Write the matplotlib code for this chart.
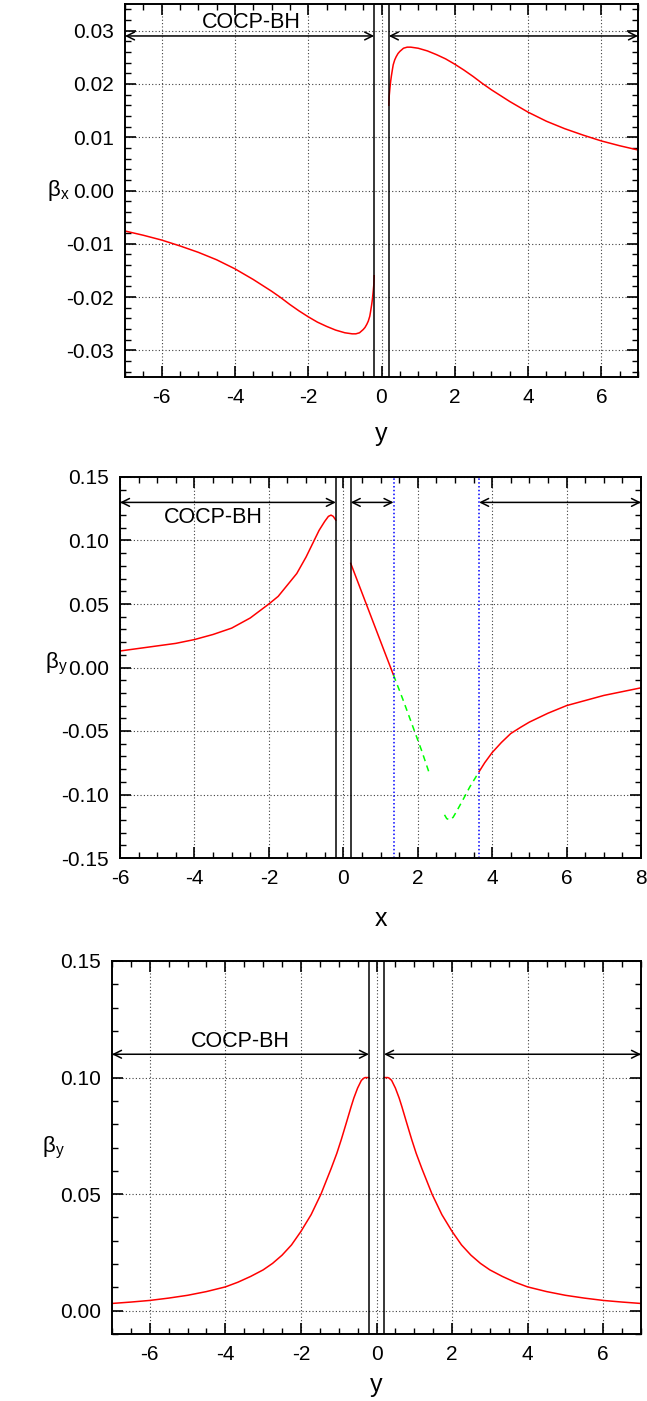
import matplotlib
matplotlib.use("Agg")
import matplotlib.pyplot as plt
from matplotlib.ticker import MultipleLocator, FormatStrFormatter

plt.rcParams['font.family'] = ['Liberation Sans', 'DejaVu Sans']
plt.rcParams['axes.unicode_minus'] = False
plt.rcParams['mathtext.default'] = 'regular'

# panel 1: beta_x along y
p1_right_y = [0.2, 0.21, 0.23, 0.25, 0.27, 0.3, 0.32, 0.36, 0.4, 0.45, 0.5, 0.6, 0.7, 0.8,
              1.0, 1.25, 1.5, 1.75, 2.0, 2.25, 2.5, 2.75, 3.0, 3.5, 4.0, 4.5, 5.0, 5.5,
              6.0, 6.5, 7.0]
p1_right_b = [0.0160, 0.0177, 0.0192, 0.0205, 0.0215, 0.0228, 0.0236, 0.0245, 0.0251, 0.0257,
              0.0261, 0.0267, 0.0269, 0.0269, 0.0267, 0.0262, 0.0255, 0.0247, 0.0237, 0.0226,
              0.0214, 0.0201, 0.0189, 0.0167, 0.0147, 0.0130, 0.0116, 0.0104, 0.0093, 0.0084,
              0.0076]
p1_left_y = [-7.0, -6.5, -6.0, -5.5, -5.0, -4.5, -4.0, -3.5, -3.0, -2.75, -2.5, -2.25, -2.0,
             -1.75, -1.5, -1.25, -1.0, -0.8, -0.7, -0.6, -0.5, -0.45, -0.4, -0.36, -0.32,
             -0.3, -0.27, -0.25, -0.23, -0.21, -0.2]
p1_left_b = [-0.0076, -0.0084, -0.0093, -0.0104, -0.0116, -0.0130, -0.0147, -0.0167, -0.0189,
             -0.0201, -0.0214, -0.0226, -0.0237, -0.0247, -0.0255, -0.0262, -0.0267, -0.0269,
             -0.0269, -0.0267, -0.0261, -0.0257, -0.0251, -0.0245, -0.0236, -0.0228, -0.0215,
             -0.0205, -0.0192, -0.0177, -0.0160]

# panel 2: beta_y along x
p2_left_x = [-6.0, -5.5, -5.0, -4.5, -4.0, -3.5, -3.0, -2.5, -2.0, -1.75, -1.5, -1.25, -1.0,
             -0.8, -0.65, -0.5, -0.4, -0.33, -0.27, -0.2]
p2_left_b = [0.013, 0.015, 0.017, 0.019, 0.022, 0.026, 0.031, 0.039, 0.050, 0.056, 0.065,
             0.074, 0.087, 0.099, 0.108, 0.115, 0.119, 0.120, 0.119, 0.116]
p2_mid_x = [0.2, 0.5, 0.8, 1.1, 1.35]
p2_mid_b = [0.082, 0.059, 0.036, 0.013, -0.006]
p2_g1_x = [1.35, 1.6, 1.9, 2.1, 2.32]
p2_g1_b = [-0.006, -0.025, -0.049, -0.065, -0.084]
p2_g2_x = [2.72, 2.78, 2.86, 2.95, 3.05, 3.2, 3.4, 3.65]
p2_g2_b = [-0.116, -0.119, -0.120, -0.118, -0.113, -0.105, -0.094, -0.082]
p2_right_x = [3.65, 3.8, 4.0, 4.25, 4.5, 4.77, 5.0, 5.5, 6.0, 6.5, 7.0, 7.5, 8.0]
p2_right_b = [-0.082, -0.075, -0.067, -0.059, -0.052, -0.047, -0.043, -0.036, -0.030,
              -0.026, -0.022, -0.019, -0.016]

# panel 3: beta_y along y
p3_left_y = [-7.0, -6.5, -6.0, -5.5, -5.0, -4.5, -4.0, -3.67, -3.33, -3.0, -2.75, -2.5,
             -2.25, -2.0, -1.73, -1.47, -1.2, -1.05, -0.93, -0.8, -0.67, -0.6, -0.5, -0.4,
             -0.33, -0.3, -0.2]
p3_left_b = [0.0031, 0.0037, 0.0044, 0.0054, 0.0066, 0.0082, 0.0102, 0.0122, 0.0147, 0.0175,
             0.0203, 0.0238, 0.0282, 0.0340, 0.0412, 0.0500, 0.0610, 0.0675, 0.0735, 0.0805,
             0.0876, 0.0912, 0.0955, 0.0988, 0.0998, 0.1000, 0.1000]
p3_right_y = [0.2, 0.3, 0.33, 0.4, 0.5, 0.6, 0.67, 0.8, 0.93, 1.05, 1.2, 1.47, 1.73, 2.0,
              2.25, 2.5, 2.75, 3.0, 3.33, 3.67, 4.0, 4.5, 5.0, 5.5, 6.0, 6.5, 7.0]
p3_right_b = [0.1000, 0.1000, 0.0998, 0.0988, 0.0955, 0.0912, 0.0876, 0.0805, 0.0735, 0.0675,
              0.0610, 0.0500, 0.0412, 0.0340, 0.0282, 0.0238, 0.0203, 0.0175, 0.0147, 0.0122,
              0.0102, 0.0082, 0.0066, 0.0054, 0.0044, 0.0037, 0.0031]

W, H = 647, 1401
fig = plt.figure(figsize=(W / 100, H / 100), dpi=100)


def box(l, t, r, b):
    return [l / W, 1 - b / H, (r - l) / W, (b - t) / H]


ax1 = fig.add_axes(box(125, 4, 638, 377))
ax2 = fig.add_axes(box(120, 477, 641, 858))
ax3 = fig.add_axes(box(112, 961, 641, 1334))


def style(ax, xmaj, xmin, ymaj, ymin):
    ax.xaxis.set_major_locator(MultipleLocator(xmaj))
    ax.xaxis.set_minor_locator(MultipleLocator(xmin))
    ax.yaxis.set_major_locator(MultipleLocator(ymaj))
    ax.yaxis.set_minor_locator(MultipleLocator(ymin))
    ax.yaxis.set_major_formatter(FormatStrFormatter('%.2f'))
    ax.tick_params(which='both', direction='in', top=True, right=True, labelsize=15)
    ax.tick_params(which='major', length=8, width=1.2, pad=8)
    ax.tick_params(which='minor', length=4.5, width=1.0)
    ax.grid(True, which='major', color='0.25', linestyle=(0, (1, 2)), linewidth=0.8)
    for s in ax.spines.values():
        s.set_linewidth(1.4)


def arrow(ax, x0, x1, y):
    ax.annotate('', xy=(x1, y), xytext=(x0, y),
                arrowprops=dict(arrowstyle='<->', color='black', lw=1.1,
                                shrinkA=0, shrinkB=0, mutation_scale=14))


# panel 1
ax1.plot(p1_left_y, p1_left_b, color='red', lw=1.1)
ax1.plot(p1_right_y, p1_right_b, color='red', lw=1.1)
for xv in (-0.2, 0.2):
    ax1.axvline(xv, color='black', lw=1.1)
arrow(ax1, -7, -0.2, 0.029)
arrow(ax1, 0.2, 7, 0.029)
ax1.text(-3.55, 0.0315, 'COCP-BH', fontsize=15.5, ha='center', va='center')
ax1.set_xlim(-7, 7)
ax1.set_ylim(-0.035, 0.035)
style(ax1, 2, 0.5, 0.01, 0.002)
ax1.set_xlabel('y', fontsize=18)
ax1.xaxis.set_label_coords(0.5, -0.12)
ax1.set_ylabel(r'$β_x$', fontsize=16, rotation=0, ha='center', va='center')
ax1.yaxis.set_label_coords(-0.13, 0.5)

# panel 2
ax2.plot(p2_left_x, p2_left_b, color='red', lw=1.1)
ax2.plot(p2_mid_x, p2_mid_b, color='red', lw=1.1)
ax2.plot(p2_g1_x, p2_g1_b, color='#00ff00', lw=1.1, linestyle=(0, (4, 3)))
ax2.plot(p2_g2_x, p2_g2_b, color='#00ff00', lw=1.1, linestyle=(0, (4, 3)))
ax2.plot(p2_right_x, p2_right_b, color='red', lw=1.1)
for xv in (-0.2, 0.2):
    ax2.axvline(xv, color='black', lw=1.1)
for xv in (1.35, 3.65):
    ax2.axvline(xv, color='blue', lw=1.1, linestyle=(0, (1, 1.5)))
arrow(ax2, -6, -0.2, 0.13)
arrow(ax2, 0.2, 1.35, 0.13)
arrow(ax2, 3.65, 8, 0.13)
ax2.text(-3.5, 0.118, 'COCP-BH', fontsize=15.5, ha='center', va='center')
ax2.set_xlim(-6, 8)
ax2.set_ylim(-0.15, 0.15)
style(ax2, 2, 0.5, 0.05, 0.01)
ax2.set_xlabel('x', fontsize=18)
ax2.xaxis.set_label_coords(0.5, -0.128)
ax2.set_ylabel(r'$β_y$', fontsize=16, rotation=0, ha='center', va='center')
ax2.yaxis.set_label_coords(-0.122, 0.51)

# panel 3
ax3.plot(p3_left_y, p3_left_b, color='red', lw=1.1)
ax3.plot(p3_right_y, p3_right_b, color='red', lw=1.1)
for xv in (-0.2, 0.2):
    ax3.axvline(xv, color='black', lw=1.1)
arrow(ax3, -7, -0.2, 0.110)
arrow(ax3, 0.2, 7, 0.110)
ax3.text(-3.6, 0.1155, 'COCP-BH', fontsize=15.5, ha='center', va='center')
ax3.set_xlim(-7, 7)
ax3.set_ylim(-0.01, 0.15)
style(ax3, 2, 0.5, 0.05, 0.01)
ax3.set_xlabel('y', fontsize=18)
ax3.xaxis.set_label_coords(0.5, -0.105)
ax3.set_ylabel(r'$β_y$', fontsize=16, rotation=0, ha='center', va='center')
ax3.yaxis.set_label_coords(-0.11, 0.5)

fig.savefig('out.png', dpi=100)
